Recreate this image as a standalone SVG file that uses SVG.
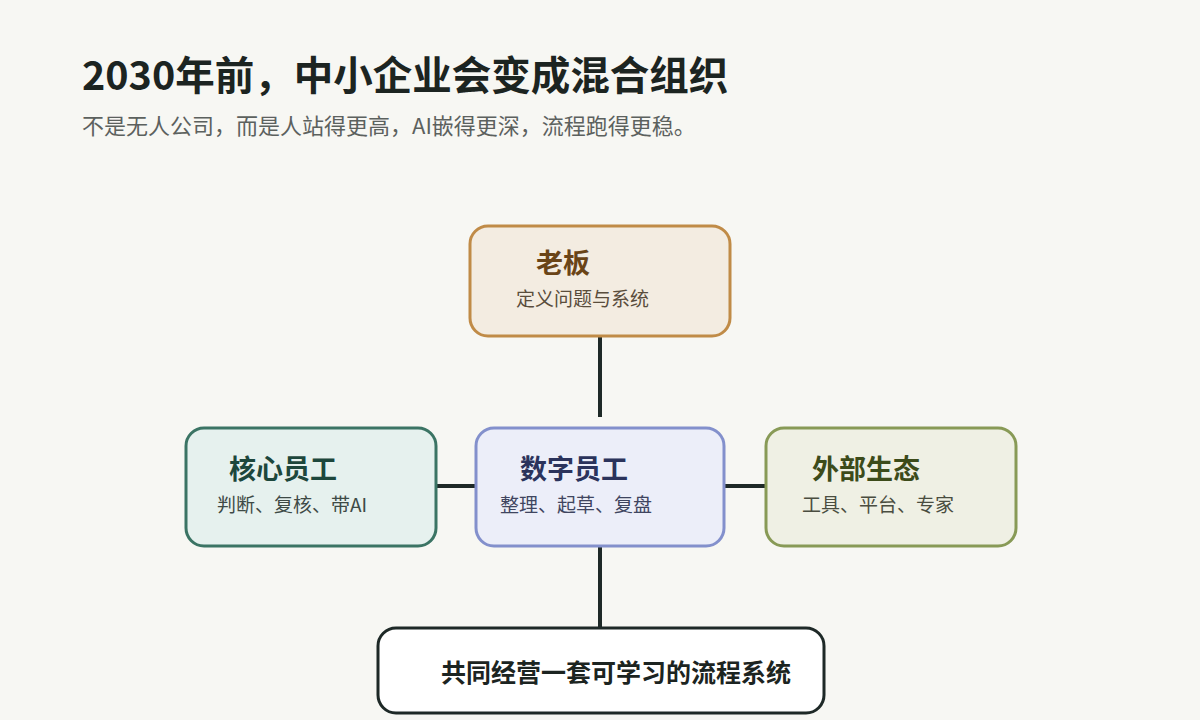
<svg xmlns="http://www.w3.org/2000/svg" width="1200" height="720" viewBox="0 0 1200 720">
<style>
text{font-family:"Noto Sans CJK SC","Noto Sans",sans-serif}
.h1{font-size:39.5px;font-weight:700;fill:#1c2421}
.sub{font-size:22px;fill:#5c615e}
.nt{font-size:27px;font-weight:700}
.ns{font-size:19px}
.box{stroke-width:3}
.conn{stroke:#1e2927;stroke-width:4;fill:none}
</style>
<rect width="1200" height="720" fill="#f7f7f3"/>
<text class="h1" x="82" y="90">2030年前，中小企业会变成混合组织</text>
<text class="sub" x="82" y="134">不是无人公司，而是人站得更高，AI嵌得更深，流程跑得更稳。</text>
<g id="connectors">
<line class="conn" x1="600" y1="336" x2="600" y2="417"/>
<line class="conn" x1="436" y1="486" x2="476" y2="486"/>
<line class="conn" x1="724" y1="486" x2="766" y2="486"/>
<line class="conn" x1="600" y1="546" x2="600" y2="628"/>
</g>
<g id="boss">
<rect class="box" x="470" y="226" width="260" height="110" rx="18" fill="#f3ece1" stroke="#c08b47"/>
<text class="nt" x="536" y="273" fill="#6a4417">老板</text>
<text class="ns" x="516" y="306" fill="#5a4d3c">定义问题与系统</text>
</g>
<g id="core">
<rect class="box" x="186" y="428" width="250" height="118" rx="18" fill="#e6f1ee" stroke="#3b7464"/>
<text class="nt" x="229" y="479" fill="#1d473c">核心员工</text>
<text class="ns" x="217" y="512" fill="#3e4a46">判断、复核、带AI</text>
</g>
<g id="digital">
<rect class="box" x="476" y="428" width="248" height="118" rx="18" fill="#eceef9" stroke="#8390cc"/>
<text class="nt" x="520" y="479" fill="#2b335c">数字员工</text>
<text class="ns" x="500" y="512" fill="#3f4560">整理、起草、复盘</text>
</g>
<g id="external">
<rect class="box" x="766" y="428" width="250" height="118" rx="18" fill="#eff0e4" stroke="#889a56"/>
<text class="nt" x="812" y="479" fill="#3c4b1a">外部生态</text>
<text class="ns" x="802" y="512" fill="#4a4d40">工具、平台、专家</text>
</g>
<g id="shared">
<rect class="box" x="378" y="628" width="446" height="85" rx="18" fill="#ffffff" stroke="#1e2927"/>
<text x="441" y="682" font-size="25" font-weight="700" fill="#1c2421">共同经营一套可学习的流程系统</text>
</g>
</svg>
